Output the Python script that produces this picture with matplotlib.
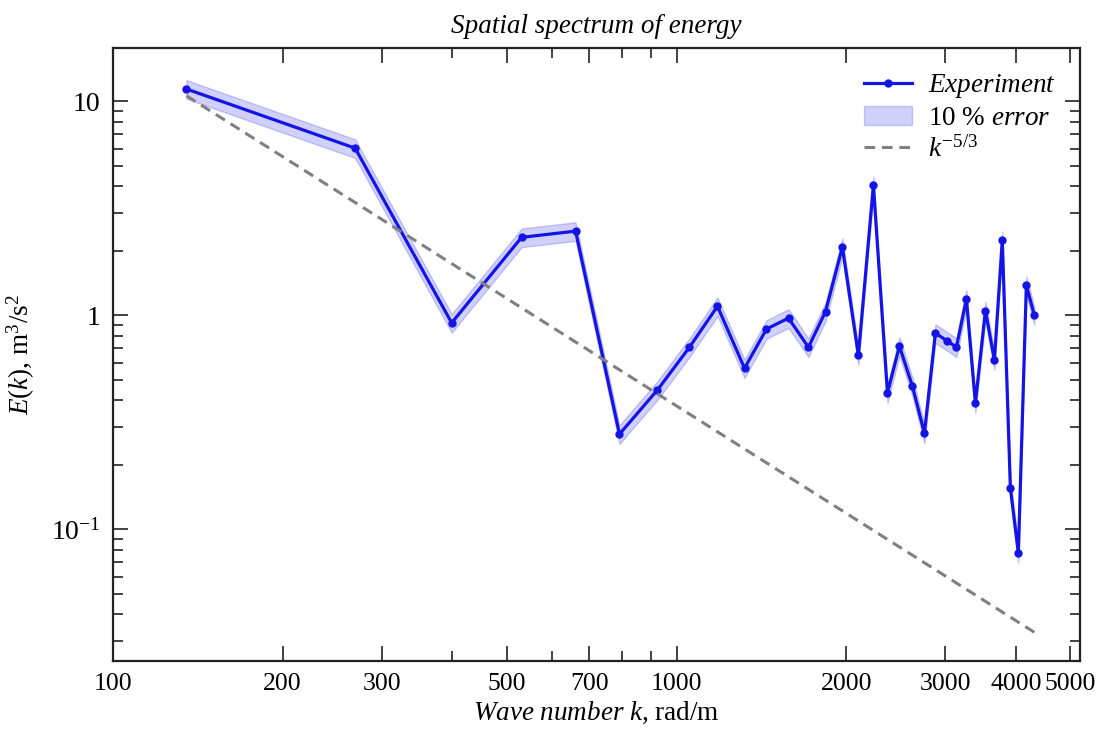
import matplotlib
matplotlib.use('Agg')
import matplotlib.pyplot as plt
import numpy as np
from matplotlib.ticker import FixedLocator, NullFormatter, FuncFormatter, LogLocator

plt.rcParams['font.family'] = ['Liberation Serif', 'DejaVu Serif']
plt.rcParams['mathtext.fontset'] = 'custom'
plt.rcParams['mathtext.rm'] = 'Liberation Serif'
plt.rcParams['mathtext.it'] = 'Liberation Serif:italic'
plt.rcParams['font.size'] = 20

# wave number k (rad/m) and energy E(k)
k = [135, 269, 399, 531, 662, 792, 925, 1054, 1182, 1320, 1444, 1580, 1714,
     1838, 1969, 2102, 2235, 2367, 2486, 2621, 2753, 2879, 3024, 3137, 3268,
     3390, 3532, 3664, 3784, 3911, 4041, 4175, 4313]
E = [11.4, 6.03, 0.92, 2.31, 2.47, 0.278, 0.447, 0.708, 1.10, 0.565, 0.861,
     0.969, 0.708, 1.04, 2.08, 0.65, 4.05, 0.433, 0.716, 0.466, 0.281, 0.824,
     0.757, 0.708, 1.19, 0.388, 1.05, 0.617, 2.24, 0.156, 0.0773, 1.38, 1.0]
rel_err = 0.10
E_ref = 10.6  # start of the k^-5/3 guide line

x_major = [100, 200, 300, 500, 700, 1000, 2000, 3000, 4000, 5000]
x_minor = [400, 600, 800, 900]

k = np.array(k)
E = np.array(E)
blue = '#1414e6'

fig = plt.figure(figsize=(11.01, 7.29), dpi=100)
ax = fig.add_axes([0.1026, 0.0933, 0.8784, 0.8407])

ax.fill_between(k, E * (1 - rel_err), E * (1 + rel_err), facecolor=blue, alpha=0.2,
                edgecolor=blue, linewidth=1.0, label=r'10 % $\mathit{error}$')
ax.plot(k, E, '-o', color=blue, lw=2.3, markersize=5, label=r'$\mathit{Experiment}$')
ax.plot(k, E_ref * (k / k[0]) ** (-5 / 3), '--', color='#808080', lw=2.2,
        dashes=(3.5, 2.2), label=r'$k^{-5/3}$')

ax.set_xscale('log')
ax.set_yscale('log')
ax.set_xlim(100, 5200)
ax.set_ylim(0.0242, 17.7)

ax.xaxis.set_major_locator(FixedLocator(x_major))
ax.xaxis.set_major_formatter(FuncFormatter(lambda v, p: f'{int(v)}'))
ax.xaxis.set_minor_locator(FixedLocator(x_minor))
ax.xaxis.set_minor_formatter(NullFormatter())

ax.yaxis.set_major_locator(FixedLocator([0.1, 1, 10]))
ax.yaxis.set_major_formatter(FuncFormatter(
    lambda v, p: {0.1: r'$10^{-1}$', 1: '1', 10: '10'}.get(round(v, 3), '')))
ax.yaxis.set_minor_locator(LogLocator(base=10, subs=np.arange(2, 10)))
ax.yaxis.set_minor_formatter(NullFormatter())

ax.tick_params(which='both', direction='in', top=True, right=True, color='#222222',
               labelsize=20, pad=9)
ax.tick_params(axis='x', labelsize=18.5)
ax.tick_params(which='major', length=11, width=1.2)
ax.tick_params(which='minor', length=7, width=1.2)
for s in ax.spines.values():
    s.set_linewidth(1.6)
    s.set_color('#222222')

ax.set_title('Spatial spectrum of energy', fontstyle='italic', fontsize=19.5, pad=11)
ax.set_xlabel(r'$\mathit{Wave\ number\ k}$, rad/m', fontsize=19.5, labelpad=3)
ax.set_ylabel(r'$E(k)$, m$^3$/s$^2$', fontsize=19.5, labelpad=10)

h, l = ax.get_legend_handles_labels()
ax.legend([h[1], h[0], h[2]], [l[1], l[0], l[2]], loc='upper right', frameon=False,
          fontsize=19.5, handlelength=1.75, handletextpad=0.6, labelspacing=0.2,
          borderaxespad=0.5)

fig.savefig('out.png', dpi=100)
